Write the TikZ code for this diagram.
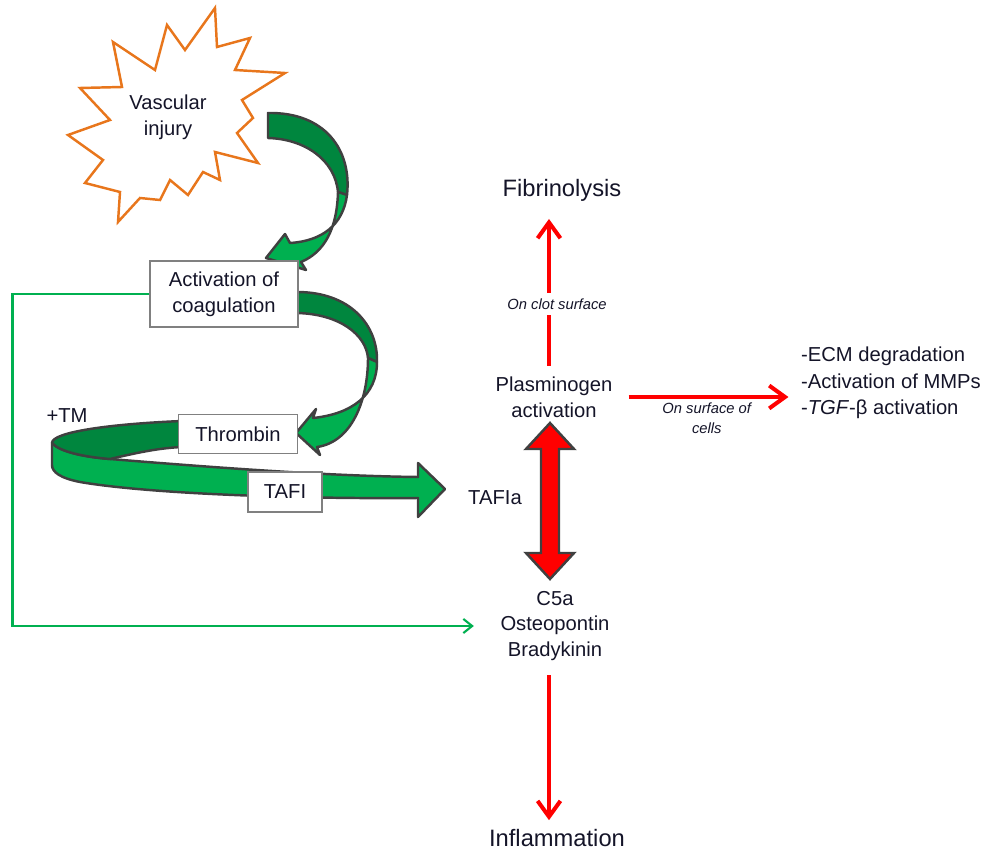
\documentclass[tikz,border=0pt]{standalone}
\usepackage{fontspec}
\setmainfont{Liberation Sans}
\usetikzlibrary{arrows.meta, positioning, calc}
\definecolor{injuryorange}{RGB}{232,118,28}
\definecolor{ribbondark}{RGB}{0,134,62}
\definecolor{ribbonlight}{RGB}{0,176,80}
\definecolor{ribbonedge}{RGB}{64,64,64}
\definecolor{linegreen}{RGB}{0,176,80}
\definecolor{boxgray}{RGB}{128,128,128}
\definecolor{txt}{RGB}{20,20,40}

\begin{document}
\begin{tikzpicture}[x=0.02cm, y=-0.02cm,
    every node/.style={font=\fontsize{11.5}{14.7}\selectfont, text=txt, align=center, inner sep=1pt},
    box/.style={draw=boxgray, fill=white, line width=0.6pt},
    headline/.style={font=\fontsize{13.5}{16}\selectfont},
    site/.style={font=\fontsize{8.4}{11.3}\selectfont\itshape},
    redarrow/.style={draw=red, line width=2.3pt, -{Straight Barb[length=9pt,width=13pt]}},
    feedback/.style={draw=linegreen, line width=1.2pt, -{Straight Barb[length=5pt,width=8pt]}},
    ribbon/.style={draw=ribbonedge, line width=1.4pt, line join=round, fill=#1}
]
\useasboundingbox (0,0) rectangle (987,851);

% vascular injury
\draw[injuryorange, line width=1.4pt, line join=miter, fill=white]
  (215,8) -- (217,47) -- (250,38) -- (235,70) -- (285,73) -- (242,100) -- (253,118)
  -- (237,133) -- (258,163) -- (215,152) -- (220,180) -- (203,172) -- (188,195)
  -- (170,180) -- (160,200) -- (140,198) -- (118,222) -- (120,192) -- (85,183)
  -- (103,160) -- (68,135) -- (110,120) -- (80,88) -- (122,87) -- (113,42)
  -- (155,70) -- (167,25) -- (185,50) -- cycle;
\node (injury) at (168,117) {Vascular\\injury};

% curled arrows of the cascade
\draw[ribbon=ribbondark] (268,113) .. controls (325,112) and (352,150) .. (347,195)
  -- (338,192) .. controls (335,160) and (305,139) .. (268,138) -- cycle;
\draw[ribbon=ribbonlight] (347,195) .. controls (343,225) and (322,241) .. (290,243)
  -- (285,234) -- (266,258) -- (306,270) -- (301,262)
  .. controls (325,252) and (337,228) .. (338,192) -- cycle;

\draw[ribbon=ribbondark] (297,292) .. controls (350,292) and (378,325) .. (377,362)
  -- (368,358) .. controls (366,335) and (340,314) .. (297,313) -- cycle;
\draw[ribbon=ribbonlight] (377,362) .. controls (377,395) and (352,414) .. (313,418)
  -- (316,409) -- (296,433) -- (320,455) -- (317,447)
  .. controls (352,442) and (368,400) .. (368,358) -- cycle;

\draw[ribbon=ribbonlight] (52,443) .. controls (60,452) and (85,457) .. (110,459)
  .. controls (220,468) and (330,476) .. (418,477) -- (418,463) -- (445,489)
  -- (418,517) -- (418,498) .. controls (300,499) and (150,494) .. (80,482)
  .. controls (60,478) and (52,472) .. (52,465) -- cycle;
\draw[ribbon=ribbondark] (182,421) .. controls (110,424) and (52,432) .. (52,443)
  .. controls (60,452) and (85,457) .. (110,459)
  .. controls (140,452) and (160,448) .. (182,447) -- cycle;

\node[box, minimum width=2.96cm, minimum height=1.32cm] (act) at (224,294) {Activation of\\coagulation};
\node[box, minimum width=2.38cm, minimum height=0.78cm] (thr) at (238,434) {Thrombin};
\node[box, minimum width=1.48cm, minimum height=0.8cm] (tafi) at (285,492) {TAFI};
\node (tm) at (67,416) {+TM};
\node (tafia) at (495,498) {TAFIa};

% fibrinolysis side
\coordinate (axis) at (549,0);
\node[headline] (fib) at (562,190) {Fibrinolysis};
\node (plasm) at (554,397) {Plasminogen\\activation};
\node[align=left, anchor=west, font=\fontsize{11.5}{15}\selectfont] (effects) at (799,383)
  {-ECM degradation\\-Activation of MMPs\\-\textit{TGF}-β activation};
\node (c5a) at (555,626) {C5a\\Osteopontin\\Bradykinin};
\node[headline] (infl) at (557,838) {Inflammation};

\draw[redarrow, shorten <=5pt, shorten >=9pt] (plasm.north -| axis) -- (fib.south -| axis);
\node[site, fill=white, inner sep=3pt] (clot) at (557,304) {On clot surface};
\draw[redarrow, shorten <=8pt, shorten >=6pt] (plasm.east) -- (plasm.east -| effects.west)
  node[midway, below=1pt, site] (cells) {On surface of\\cells};
\draw[redarrow, shorten <=7pt, shorten >=4pt] (c5a.south -| axis) -- (infl.north -| axis);

% TAFIa double arrow
\draw[draw=ribbonedge, line width=1.4pt, line join=miter, fill=red]
  (550,423) -- (574,449) -- (559,449) -- (559,553) -- (574,553) -- (550,579)
  -- (526,553) -- (541,553) -- (541,449) -- (526,449) -- cycle;

% direct link of coagulation to mediators
\draw[feedback, shorten >=14pt] (act.west) -- ++(-137,0) |- (c5a.west);

\end{tikzpicture}
\end{document}
